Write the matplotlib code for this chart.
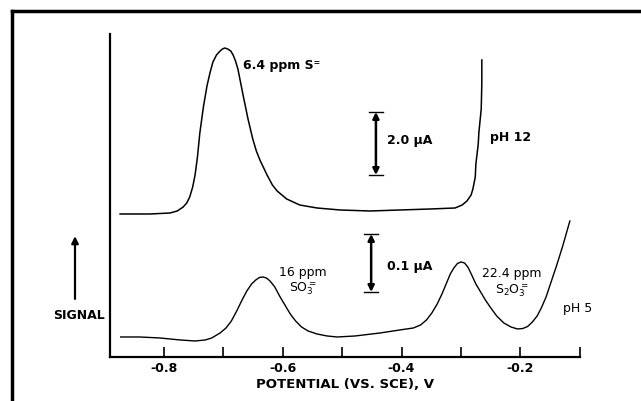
import matplotlib.pyplot as plt
from matplotlib.lines import Line2D

# Potential (V vs. SCE) and signal (arbitrary units)
ph12_potential = [-0.873, -0.823, -0.789, -0.777, -0.767, -0.761, -0.756, -0.751, -0.747, -0.743,
                  -0.739, -0.733, -0.727, -0.722, -0.717, -0.711, -0.705, -0.701, -0.697, -0.692,
                  -0.687, -0.683, -0.679, -0.675, -0.666, -0.658, -0.650, -0.644, -0.638, -0.626,
                  -0.617, -0.609, -0.593, -0.571, -0.542, -0.503, -0.453, -0.403, -0.352, -0.310,
                  -0.298, -0.290, -0.283, -0.280, -0.276, -0.275, -0.271, -0.270, -0.266, -0.265,
                  -0.265]
ph12_signal = [143, 143, 144, 146, 150, 154, 160, 170, 182, 200,
               224, 250, 271, 284, 295, 302, 306, 308, 309, 308,
               306, 302, 296, 288, 261, 238, 218, 206, 197, 182,
               172, 166, 158, 152, 149, 147, 146, 147, 148, 149,
               152, 156, 162, 168, 180, 193, 213, 224, 248, 273,
               297]

ph5_potential = [-0.872, -0.840, -0.806, -0.772, -0.747, -0.730, -0.719, -0.705, -0.695, -0.686,
                 -0.677, -0.668, -0.660, -0.652, -0.645, -0.639, -0.633, -0.627, -0.621, -0.613,
                 -0.604, -0.595, -0.587, -0.578, -0.568, -0.557, -0.542, -0.525, -0.508, -0.478,
                 -0.436, -0.403, -0.380, -0.368, -0.358, -0.349, -0.340, -0.332, -0.325, -0.318,
                 -0.312, -0.306, -0.300, -0.294, -0.288, -0.282, -0.275, -0.267, -0.259, -0.251,
                 -0.240, -0.228, -0.216, -0.205, -0.196, -0.188, -0.180, -0.172, -0.165, -0.157,
                 -0.148, -0.139, -0.129, -0.117]
ph5_signal = [20, 20, 19, 17, 16, 17, 19, 24, 29, 36,
              46, 57, 66, 73, 77, 79.5, 80, 79, 76, 70,
              60, 51, 43, 36, 30, 26, 23, 21, 20, 21,
              24, 27, 29, 32, 37, 44, 53, 63, 73, 83,
              89, 93.5, 95, 94, 89.5, 82, 73, 65, 57, 50,
              41, 34, 30, 28, 28.5, 30.5, 35, 41, 49, 60,
              76, 92, 111, 136]

major_ticks = [-0.8, -0.6, -0.4, -0.2]
major_labels = ["-0.8", "-0.6", "-0.4", "-0.2"]
minor_ticks = [-0.7, -0.5, -0.3, -0.1]

plt.rcParams["font.family"] = ["DejaVu Sans"]

fig = plt.figure(figsize=(6.41, 4.02), dpi=100)
ax = fig.add_axes([0.1716, 0.1095, 0.7332, 0.8034])

ax.plot(ph12_potential, ph12_signal, color="black", linewidth=1.1)
ax.plot(ph5_potential, ph5_signal, color="black", linewidth=1.0)

ax.set_xlim(-0.89, -0.10)
ax.set_ylim(0, 323)

# axes: only left and bottom, ticks pointing inward
ax.spines["top"].set_visible(False)
ax.spines["right"].set_visible(False)
ax.spines["left"].set_linewidth(1.6)
ax.spines["bottom"].set_linewidth(1.6)
ax.set_yticks([])
ax.set_xticks(major_ticks)
ax.set_xticklabels(major_labels, fontsize=9, fontweight="bold")
ax.set_xticks(minor_ticks, minor=True)
ax.tick_params(axis="x", which="both", direction="in", length=7, width=1.2, pad=3)
ax.set_xlabel("POTENTIAL (VS. SCE), V", fontsize=9.5, fontweight="bold", labelpad=2)

# scale bars
def scale_bar(x, y0, y1):
    ax.annotate("", xy=(x, y1), xytext=(x, y0),
                arrowprops=dict(arrowstyle="<|-|>", color="black", lw=1.8,
                                mutation_scale=9, shrinkA=0, shrinkB=0))
    ax.plot([x - 0.012, x + 0.012], [y0, y0], color="black", linewidth=1.0)
    ax.plot([x - 0.012, x + 0.012], [y1, y1], color="black", linewidth=1.0)

scale_bar(-0.443, 182, 245)
scale_bar(-0.451, 65, 123)

ax.text(-0.424, 218, "2.0 μA", fontsize=9, fontweight="bold", va="center")
ax.text(-0.424, 91, "0.1 μA", fontsize=9, fontweight="bold", va="center")
ax.text(-0.666, 293, "6.4 ppm S⁼", fontsize=9, fontweight="bold", va="center")
ax.text(-0.251, 221, "pH 12", fontsize=9, fontweight="bold", va="center")
ax.text(-0.129, 49, "pH 5", fontsize=9, va="center")
ax.text(-0.566, 85, "16 ppm", fontsize=9, ha="center", va="center")
ax.text(-0.566, 69, "SO$_3^=$", fontsize=9, ha="center", va="center")
ax.text(-0.214, 84, "22.4 ppm", fontsize=9, ha="center", va="center")
ax.text(-0.214, 67, "S$_2$O$_3^=$", fontsize=9, ha="center", va="center")

# SIGNAL arrow outside the axes
fig.text(0.123, 0.214, "SIGNAL", fontsize=9, fontweight="bold", ha="center", va="center")
ax.annotate("", xy=(0.117, 0.410), xytext=(0.117, 0.254),
            xycoords="figure fraction", textcoords="figure fraction",
            arrowprops=dict(arrowstyle="-|>", color="black", lw=1.6,
                            mutation_scale=10, shrinkA=0, shrinkB=0))

# heavy frame lines along the top and left
fig.add_artist(Line2D([0.0187, 1.0], [0.970, 0.970], color="black", linewidth=2.5))
fig.add_artist(Line2D([0.0187, 0.0187], [0.0, 0.970], color="black", linewidth=2.5))

fig.savefig("out.png", dpi=100)
